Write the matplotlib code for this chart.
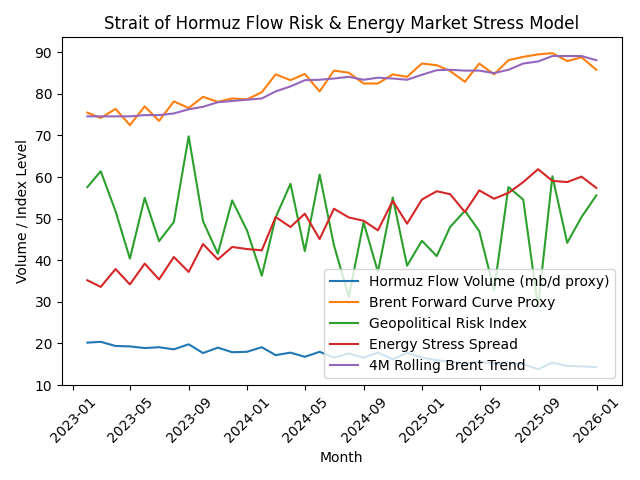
import matplotlib
matplotlib.use('Agg')
import matplotlib.pyplot as plt
import pandas as pd

# month-end dates, Jan 2023 .. Dec 2025
months = pd.date_range('2023-02-01', periods=36, freq='MS') - pd.Timedelta(days=1)

hormuz_flow = [20.2, 20.4, 19.4, 19.3, 18.9, 19.1, 18.6, 19.8, 17.7, 19.0, 17.9, 18.0,
               19.1, 17.2, 17.8, 16.8, 18.0, 16.6, 17.6, 16.6, 17.8, 16.2, 17.8, 16.6,
               16.0, 15.6, 15.2, 15.6, 15.2, 15.4, 15.0, 13.8, 15.4, 14.6, 14.5, 14.3]

brent_forward = [75.5, 74.2, 76.4, 72.5, 77.0, 73.5, 78.2, 76.6, 79.3, 78.1, 78.9, 78.7,
                 80.4, 84.7, 83.3, 84.8, 80.6, 85.6, 85.1, 82.5, 82.5, 84.7, 84.1, 87.3,
                 86.9, 85.5, 82.9, 87.3, 84.7, 88.1, 88.9, 89.5, 89.8, 87.9, 88.8, 85.8]

geo_risk = [57.6, 61.4, 51.8, 40.4, 55.0, 44.6, 49.2, 69.8, 49.4, 41.6, 54.4, 47.2,
            36.3, 50.3, 58.4, 42.2, 60.6, 43.6, 31.2, 49.1, 37.2, 55.1, 38.7, 44.7,
            41.0, 48.0, 51.9, 47.0, 32.8, 57.6, 54.6, 28.8, 60.2, 44.2, 50.4, 55.6]

stress_spread = [35.2, 33.6, 37.9, 34.2, 39.2, 35.4, 40.8, 37.2, 43.9, 40.2, 43.2, 42.7,
                 42.4, 50.4, 48.0, 51.2, 45.1, 52.4, 50.3, 49.5, 47.2, 54.3, 48.8, 54.6,
                 56.6, 55.9, 51.6, 56.8, 54.8, 56.2, 58.8, 61.9, 59.1, 58.8, 60.1, 57.4]

brent_trend = [74.6, 74.6, 74.6, 74.6, 74.9, 74.9, 75.3, 76.3, 76.9, 78.0, 78.3, 78.6,
               78.9, 80.6, 81.8, 83.3, 83.4, 83.7, 84.1, 83.4, 83.9, 83.7, 83.4, 84.6,
               85.7, 85.8, 85.6, 85.6, 85.0, 85.8, 87.3, 87.8, 89.1, 89.1, 89.1, 88.1]

plt.figure(figsize=(6.4, 4.8))

plt.plot(months, hormuz_flow, label='Hormuz Flow Volume (mb/d proxy)')
plt.plot(months, brent_forward, label='Brent Forward Curve Proxy')
plt.plot(months, geo_risk, label='Geopolitical Risk Index')
plt.plot(months, stress_spread, label='Energy Stress Spread')
plt.plot(months, brent_trend, label='4M Rolling Brent Trend')

plt.title('Strait of Hormuz Flow Risk & Energy Market Stress Model')
plt.xlabel('Month')
plt.ylabel('Volume / Index Level')
plt.legend(loc='lower right')
plt.xticks(rotation=45)
plt.tight_layout()
plt.savefig('out.png', dpi=100)
